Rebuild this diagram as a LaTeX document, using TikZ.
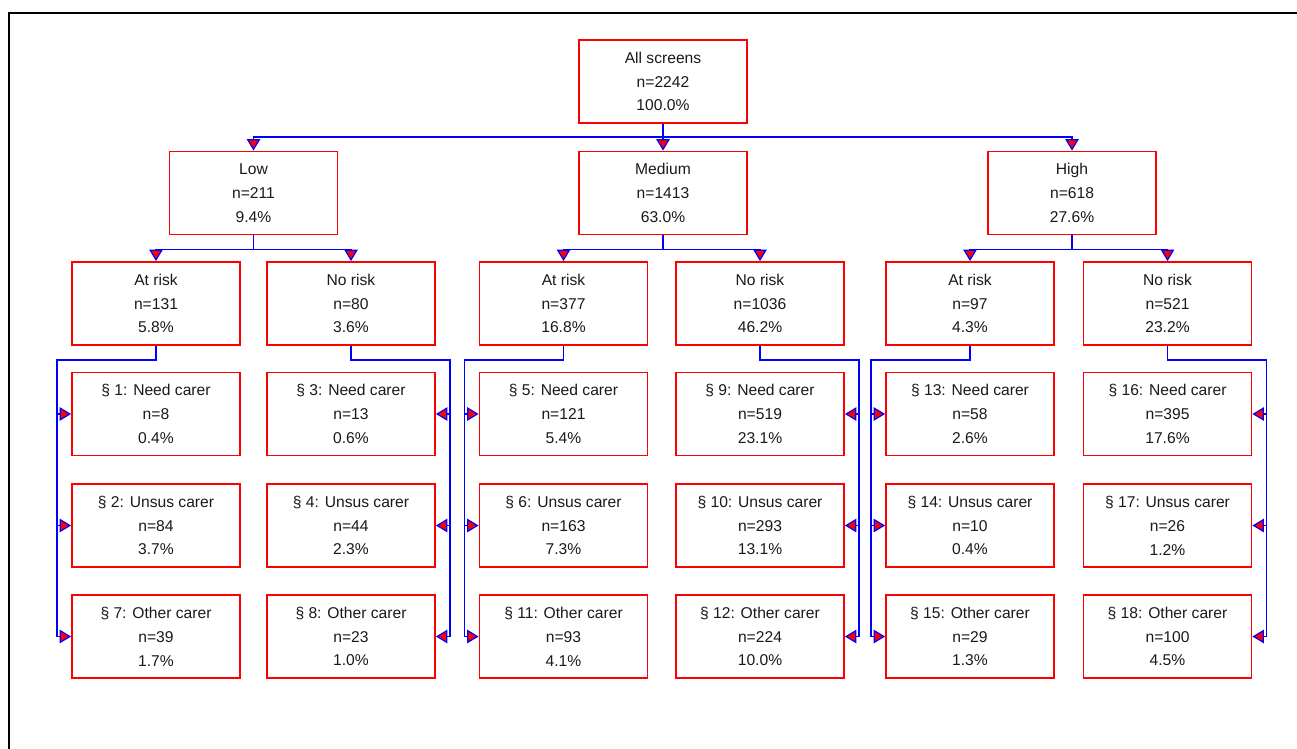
\documentclass[tikz,border=0pt]{standalone}
\usepackage{fontspec}
\setmainfont{Liberation Sans}
\usetikzlibrary{arrows.meta,calc}
\definecolor{ink}{HTML}{1A1A1A}
\definecolor{cBox}{HTML}{FF0000}
\definecolor{cLink}{HTML}{0000FF}
\definecolor{cTip}{HTML}{FF0000}
\tikzset{
  cell/.style  = {draw=cBox, line width=1.05pt, fill=white, align=center, inner sep=0pt,
                  minimum width=3.36cm, minimum height=1.66cm, text=ink,
                  font=\fontsize{8.9}{13.6}\selectfont},
  link/.style  = {-{Triangle[length=2.3mm,width=2.7mm,fill=cTip,line width=0.7pt]}, line width=0.95pt, draw=cLink},
  frm/.style   = {draw=black, line width=1.4pt},
}
\begin{document}
\begin{tikzpicture}[x=0.02cm, y=-0.02cm]
  \useasboundingbox (0,0) rectangle (1297,749);
  \clip (0,0) rectangle (1297,749);
  \draw[frm] (9,13) rectangle (1330,780);

  % root and risk levels
  \node[cell] (all) at (663,81.5) {All screens\\ n=2242\\ 100.0\%};
  \node[cell] (low) at (253.5,193) {Low\\ n=211\\ 9.4\%};
  \node[cell] (med) at (663,193) {Medium\\ n=1413\\ 63.0\%};
  \node[cell] (hig) at (1072,193) {High\\ n=618\\ 27.6\%};
  \draw[link] (all.south) -- ++(0,13) -| (low.north);
  \draw[link] (all.south) -- ++(0,13) -| (med.north);
  \draw[link] (all.south) -- ++(0,13) -| (hig.north);

  % at risk / no risk
  \node[cell] (lowat) at (156,303.5) {At risk\\ n=131\\ 5.8\%};
  \node[cell] (lowno) at (351,303.5) {No risk\\ n=80\\ 3.6\%};
  \node[cell] (medat) at (563.5,303.5) {At risk\\ n=377\\ 16.8\%};
  \node[cell] (medno) at (760,303.5) {No risk\\ n=1036\\ 46.2\%};
  \node[cell] (higat) at (970,303.5) {At risk\\ n=97\\ 4.3\%};
  \node[cell] (higno) at (1167.5,303.5) {No risk\\ n=521\\ 23.2\%};
  \draw[link] (low.south) -- ++(0,14) -| (lowat.north); \draw[link] (low.south) -- ++(0,14) -| (lowno.north);
  \draw[link] (med.south) -- ++(0,14) -| (medat.north); \draw[link] (med.south) -- ++(0,14) -| (medno.north);
  \draw[link] (hig.south) -- ++(0,14) -| (higat.north); \draw[link] (hig.south) -- ++(0,14) -| (higno.north);

  % carer groups
  \node[cell] (s1) at (156,414) {§ 1: Need carer\\ n=8\\ 0.4\%};
  \node[cell] (s2) at (156,525.5) {§ 2: Unsus carer\\ n=84\\ 3.7\%};
  \node[cell] (s7) at (156,636.5) {§ 7: Other carer\\ n=39\\ 1.7\%};
  \node[cell] (s3) at (351,414) {§ 3: Need carer\\ n=13\\ 0.6\%};
  \node[cell] (s4) at (351,525.5) {§ 4: Unsus carer\\ n=44\\ 2.3\%};
  \node[cell] (s8) at (351,636.5) {§ 8: Other carer\\ n=23\\ 1.0\%};
  \node[cell] (s5) at (563.5,414) {§ 5: Need carer\\ n=121\\ 5.4\%};
  \node[cell] (s6) at (563.5,525.5) {§ 6: Unsus carer\\ n=163\\ 7.3\%};
  \node[cell] (s11) at (563.5,636.5) {§ 11: Other carer\\ n=93\\ 4.1\%};
  \node[cell] (s9) at (760,414) {§ 9: Need carer\\ n=519\\ 23.1\%};
  \node[cell] (s10) at (760,525.5) {§ 10: Unsus carer\\ n=293\\ 13.1\%};
  \node[cell] (s12) at (760,636.5) {§ 12: Other carer\\ n=224\\ 10.0\%};
  \node[cell] (s13) at (970,414) {§ 13: Need carer\\ n=58\\ 2.6\%};
  \node[cell] (s14) at (970,525.5) {§ 14: Unsus carer\\ n=10\\ 0.4\%};
  \node[cell] (s15) at (970,636.5) {§ 15: Other carer\\ n=29\\ 1.3\%};
  \node[cell] (s16) at (1167.5,414) {§ 16: Need carer\\ n=395\\ 17.6\%};
  \node[cell] (s17) at (1167.5,525.5) {§ 17: Unsus carer\\ n=26\\ 1.2\%};
  \node[cell] (s18) at (1167.5,636.5) {§ 18: Other carer\\ n=100\\ 4.5\%};

  % at risk feeds from the left, no risk from the right
  \draw[link] (lowat.south) -- ++(0,14) -| ($(s7.west)+(-14,0)$) -- (s7.west);
  \draw[link] ($(s1.west)+(-14,0)$) -- (s1.west); \draw[link] ($(s2.west)+(-14,0)$) -- (s2.west);
  \draw[link] (lowno.south) -- ++(0,14) -| ($(s8.east)+(14,0)$) -- (s8.east);
  \draw[link] ($(s3.east)+(14,0)$) -- (s3.east); \draw[link] ($(s4.east)+(14,0)$) -- (s4.east);
  \draw[link] (medat.south) -- ++(0,14) -| ($(s11.west)+(-14,0)$) -- (s11.west);
  \draw[link] ($(s5.west)+(-14,0)$) -- (s5.west); \draw[link] ($(s6.west)+(-14,0)$) -- (s6.west);
  \draw[link] (medno.south) -- ++(0,14) -| ($(s12.east)+(14,0)$) -- (s12.east);
  \draw[link] ($(s9.east)+(14,0)$) -- (s9.east); \draw[link] ($(s10.east)+(14,0)$) -- (s10.east);
  \draw[link] (higat.south) -- ++(0,14) -| ($(s15.west)+(-14,0)$) -- (s15.west);
  \draw[link] ($(s13.west)+(-14,0)$) -- (s13.west); \draw[link] ($(s14.west)+(-14,0)$) -- (s14.west);
  \draw[link] (higno.south) -- ++(0,14) -| ($(s18.east)+(14,0)$) -- (s18.east);
  \draw[link] ($(s16.east)+(14,0)$) -- (s16.east); \draw[link] ($(s17.east)+(14,0)$) -- (s17.east);
\end{tikzpicture}
\end{document}
